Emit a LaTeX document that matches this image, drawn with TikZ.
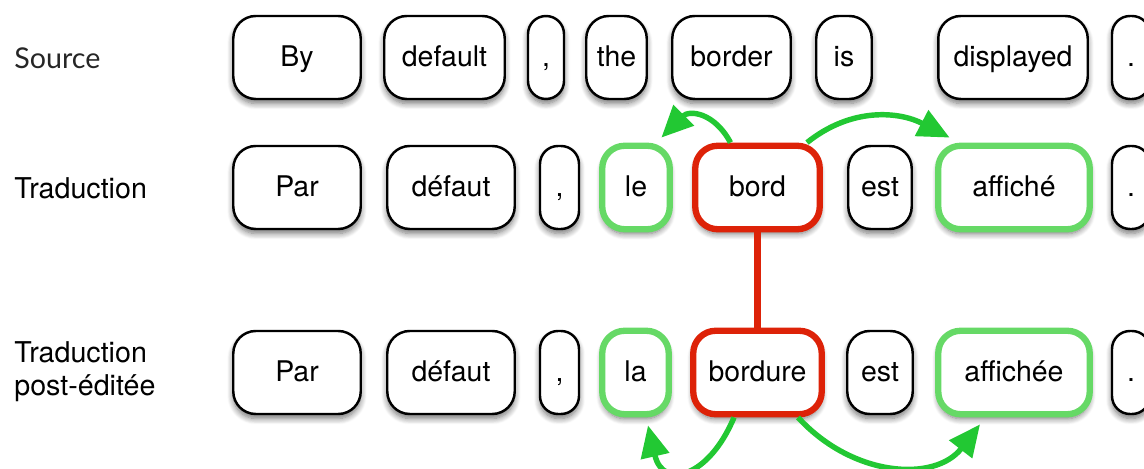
\documentclass[tikz,border=0pt]{standalone}
\usepackage{fontspec}
\setmainfont{TeX Gyre Heros}
\newfontfamily\sourcefont{Lato}
\usetikzlibrary{arrows.meta, shadows.blur}

\definecolor{wordGreen}{RGB}{102,217,102}
\definecolor{wordRed}{RGB}{221,34,8}
\definecolor{linkGreen}{RGB}{34,200,51}

\begin{document}
\begin{tikzpicture} [x = 0.02cm, y = -0.02cm,
	word/.style = {draw, line width = 1.4pt, rounded corners = 0.45cm, fill = white, minimum height = 1.66cm, inner sep = 0pt, text height = 14pt, text depth = 3.6pt, font = \fontsize{16.2}{19}\selectfont, blur shadow = {shadow xshift = 0pt, shadow yshift = -0.09cm, shadow opacity = 55, shadow blur radius = 0.12cm, shadow blur steps = 8}},
	narrow/.style = {rounded corners = 0.36cm},
	aligned/.style = {draw = wordGreen, line width = 3.6pt, minimum height = 1.67cm},
	edited/.style = {draw = wordRed, line width = 3.6pt, minimum height = 1.67cm},
	rowLabel/.style = {anchor = west, inner sep = 0pt, align = left, font = \fontsize{16.3}{18.7}\selectfont},
	link/.style = {draw = linkGreen, line width = 3.1pt, -{Triangle[length = 18pt, width = 16pt]}}
	]

	\useasboundingbox (0, 0) rectangle (1144, 469);

	%row labels
	\node [rowLabel, font = \fontsize{16.3}{18.7}\sourcefont, text = black!85] (srcLabel) at (14, 58.5) {Source};
	\node [rowLabel] (trLabel) at (14, 188) {Traduction};
	\node [rowLabel] (peLabel) at (14, 372) {Traduction\\post-éditée};

	%source
	\node [word, minimum width = 2.55cm] (srcBy) at (297, 57.5) {By};
	\node [word, minimum width = 2.41cm] (srcDefault) at (444.5, 57.5) {default};
	\node [word, narrow, minimum width = 0.72cm] (srcComma) at (546, 57.5) {,};
	\node [word, minimum width = 1.21cm] (srcThe) at (616.5, 57.5) {the};
	\node [word, minimum width = 2.37cm] (srcBorder) at (731.5, 57.5) {border};
	\node [word, minimum width = 1.11cm] (srcIs) at (844, 57.5) {is};
	\node [word, minimum width = 2.99cm] (srcDisplayed) at (1013, 57.5) {displayed};
	\node [word, narrow, minimum width = 0.76cm] (srcDot) at (1131, 57.5) {.};

	%traduction
	\node [word, minimum width = 2.55cm] (trPar) at (297, 187.5) {Par};
	\node [word, minimum width = 2.55cm] (trDefaut) at (451, 187.5) {défaut};
	\node [word, narrow, minimum width = 0.78cm] (trComma) at (559.5, 187.5) {,};
	\node [word, aligned, minimum width = 1.35cm] (trLe) at (636, 187.5) {le};
	\node [word, edited, minimum width = 2.49cm] (trBord) at (757.5, 187.5) {bord};
	\node [word, minimum width = 1.27cm] (trEst) at (880, 187.5) {est};
	\node [word, aligned, minimum width = 3.03cm] (trAffiche) at (1014, 187.5) {affiché};
	\node [word, narrow, minimum width = 0.76cm] (trDot) at (1131, 187.5) {.};

	%post-edition
	\node [word, minimum width = 2.55cm] (pePar) at (297, 372.5) {Par};
	\node [word, minimum width = 2.55cm] (peDefaut) at (451, 372.5) {défaut};
	\node [word, narrow, minimum width = 0.78cm] (peComma) at (559.5, 372.5) {,};
	\node [word, aligned, minimum width = 1.33cm] (peLa) at (635.5, 372.5) {la};
	\node [word, edited, minimum width = 2.57cm] (peBordure) at (757.5, 372.5) {bordure};
	\node [word, minimum width = 1.31cm] (peEst) at (880, 372.5) {est};
	\node [word, aligned, minimum width = 3.03cm] (peAffichee) at (1014, 372.5) {affichée};
	\node [word, narrow, minimum width = 0.76cm] (peDot) at (1131, 372.5) {.};

% Draw edit link.

	\draw [draw = wordRed, line width = 3.8pt] (trBord) -- (peBordure);

% Draw alignment arrows.

	\draw [link] ([xshift = -0.54cm]trBord.north) .. controls +(-16, -30) and +(28, -28) .. ([xshift = -0.23cm, yshift = 0.1cm]trLe.north east);
	\draw [link] ([xshift = 0.99cm]trBord.north) .. controls +(45, -36) and +(-50, -26) .. ([xshift = 0.29cm, yshift = 0.1cm]trAffiche.north west);

	\draw [link] ([xshift = -0.47cm]peBordure.south) .. controls +(-25, 60) and +(15, 65) .. ([xshift = 0.25cm, yshift = -0.16cm]peLa.south);
	\draw [link] ([xshift = 0.81cm]peBordure.south) .. controls +(55, 60) and +(-45, 58) .. ([xshift = -0.68cm, yshift = -0.14cm]peAffichee.south);

\end{tikzpicture}
\end{document}
